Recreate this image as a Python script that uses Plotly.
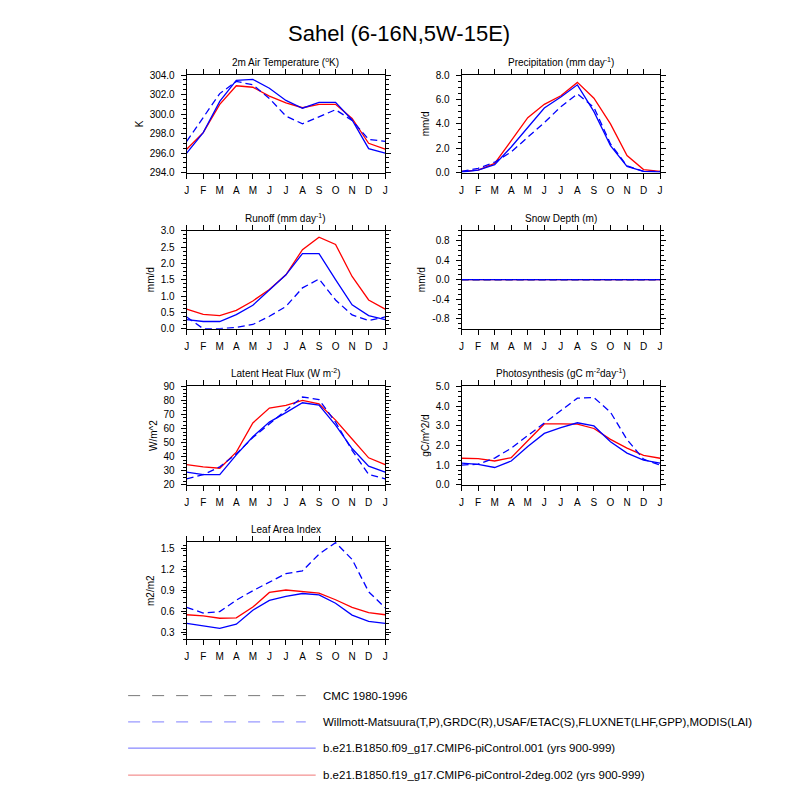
import plotly.graph_objects as go

# ---------------- data ----------------
months = ["J", "F", "M", "A", "M", "J", "J", "A", "S", "O", "N", "D", "J"]
month_pos = list(range(13))

# 2m air temperature (K)
tsa_f09 = [296.0, 298.1, 301.3, 303.45, 303.55, 302.65, 301.4, 300.6, 301.2, 301.2, 299.4, 296.45, 296.0]
tsa_f19 = [296.4, 298.1, 301.0, 302.9, 302.75, 301.85, 301.15, 300.65, 301.0, 301.0, 299.55, 297.0, 296.4]
tsa_obs = [297.2, 299.6, 302.1, 303.35, 303.0, 301.6, 299.8, 299.0, 299.7, 300.45, 299.35, 297.4, 297.2]

# precipitation (mm/d)
prc_f09 = [0.05, 0.2, 0.65, 2.1, 3.7, 5.3, 6.2, 7.2, 5.0, 2.2, 0.5, 0.1, 0.05]
prc_f19 = [0.1, 0.2, 0.75, 2.6, 4.5, 5.6, 6.3, 7.4, 6.1, 4.0, 1.4, 0.25, 0.1]
prc_obs = [0.1, 0.35, 0.85, 1.7, 2.9, 4.1, 5.4, 6.45, 5.35, 2.35, 0.55, 0.1, 0.1]

# runoff (mm/d)
rof_f09 = [0.28, 0.22, 0.22, 0.43, 0.72, 1.2, 1.65, 2.3, 2.3, 1.5, 0.73, 0.4, 0.28]
rof_f19 = [0.6, 0.44, 0.4, 0.56, 0.85, 1.2, 1.65, 2.42, 2.8, 2.58, 1.6, 0.88, 0.6]
rof_obs = [0.36, 0.0, 0.0, 0.04, 0.13, 0.38, 0.68, 1.25, 1.52, 0.88, 0.42, 0.25, 0.36]

# snow depth (m)
snd_f09 = [0.0] * 13
snd_f19 = [0.0] * 13
snd_obs = [0.0] * 13
snd_cmc = [0.0] * 13

# latent heat flux (W/m2)
lhf_f09 = [29.0, 27.2, 27.2, 41.3, 54.2, 64.6, 71.3, 78.3, 76.6, 62.4, 45.8, 33.3, 29.0]
lhf_f19 = [34.4, 32.8, 31.8, 43.2, 64.0, 74.6, 76.4, 80.0, 77.6, 66.0, 52.6, 39.2, 34.4]
lhf_obs = [24.3, 27.2, 32.8, 42.0, 53.6, 63.6, 73.0, 82.4, 80.6, 64.5, 44.5, 27.4, 24.3]

# photosynthesis (gC/m2/d)
gpp_f09 = [1.1, 1.04, 0.88, 1.21, 1.94, 2.61, 2.9, 3.15, 2.99, 2.19, 1.61, 1.25, 1.1]
gpp_f19 = [1.35, 1.33, 1.21, 1.38, 2.24, 3.09, 3.09, 3.08, 2.86, 2.31, 1.86, 1.5, 1.35]
gpp_obs = [1.0, 1.05, 1.36, 1.86, 2.5, 3.14, 3.77, 4.4, 4.43, 3.69, 2.3, 1.3, 1.0]

# leaf area index (m2/m2)
lai_f09 = [0.43, 0.40, 0.36, 0.42, 0.62, 0.76, 0.82, 0.86, 0.84, 0.72, 0.55, 0.46, 0.43]
lai_f19 = [0.555, 0.54, 0.505, 0.51, 0.665, 0.875, 0.91, 0.89, 0.865, 0.77, 0.66, 0.585, 0.555]
lai_obs = [0.66, 0.58, 0.60, 0.765, 0.90, 1.02, 1.145, 1.185, 1.425, 1.59, 1.35, 0.885, 0.655]

snow_ticks = [-0.8, -0.4, 0.0, 0.4, 0.8]
snow_ticktext = ["-0.8", "-0.4", "0.0", "0.4", "0.8"]

legend_labels = [
    "CMC 1980-1996",
    "Willmott-Matsuura(T,P),GRDC(R),USAF/ETAC(S),FLUXNET(LHF,GPP),MODIS(LAI)",
    "b.e21.B1850.f09_g17.CMIP6-piControl.001 (yrs 900-999)",
    "b.e21.B1850.f19_g17.CMIP6-piControl-2deg.002 (yrs 900-999)",
]

# ---------------- styling ----------------
FONT = "Liberation Sans, Arial, Helvetica, sans-serif"
RED = "#ff0000"
BLUE = "#0000ff"
W, H = 800, 800
OFF = 8  # page body margin compensation (px)
DASH = "7px,4px"


def px_x(v):
    return (v - OFF) / W


def px_y(v):
    return 1 - (v - OFF) / H


panels = [
    dict(title="2m Air Temperature (<sup>o</sup>K)", ytitle="K", rng=[294, 304], tick=2, minor=0.5, fmt=".1f",
         f09=tsa_f09, f19=tsa_f19, obs=tsa_obs, cmc=None),
    dict(title="Precipitation (mm day<sup>-1</sup>)", ytitle="mm/d", rng=[0, 8], tick=2, minor=0.5, fmt=".1f",
         f09=prc_f09, f19=prc_f19, obs=prc_obs, cmc=None),
    dict(title="Runoff (mm day<sup>-1</sup>)", ytitle="mm/d", rng=[0, 3], tick=0.5, minor=0.125, fmt=".1f",
         f09=rof_f09, f19=rof_f19, obs=rof_obs, cmc=None),
    dict(title="Snow Depth (m)", ytitle="mm/d", rng=[-1, 1], tick=None, minor=0.1, fmt=None,
         f09=snd_f09, f19=snd_f19, obs=snd_obs, cmc=snd_cmc),
    dict(title="Latent Heat Flux (W m<sup>-2</sup>)", ytitle="W/m^2", rng=[20, 90], tick=10, minor=2.5, fmt="d",
         f09=lhf_f09, f19=lhf_f19, obs=lhf_obs, cmc=None),
    dict(title="Photosynthesis (gC m<sup>-2</sup>day<sup>-1</sup>)", ytitle="gC/m^2/d", rng=[0, 5], tick=1, minor=0.25, fmt=".1f",
         f09=gpp_f09, f19=gpp_f19, obs=gpp_obs, cmc=None),
    dict(title="Leaf Area Index", ytitle="m2/m2", rng=[0.2, 1.6], tick=0.3, minor=0.075, fmt=".1f", tick0=0.3,
         f09=lai_f09, f19=lai_f19, obs=lai_obs, cmc=None),
]

col_x = [(185, 385), (462, 662)]
row_y = [(70, 169), (228, 327.5), (386, 486), (544, 643)]

fig = go.Figure()
annotations = []
shapes = []

for i, p in enumerate(panels):
    r, c = divmod(i, 2)
    x0, x1 = col_x[c]
    y0, y1 = row_y[r]
    n = i + 1
    xa = "x" if n == 1 else f"x{n}"
    ya = "y" if n == 1 else f"y{n}"
    xkey = "xaxis" if n == 1 else f"xaxis{n}"
    ykey = "yaxis" if n == 1 else f"yaxis{n}"

    fig.add_trace(go.Scatter(x=month_pos, y=p["f19"], mode="lines", xaxis=xa, yaxis=ya,
                             line=dict(color=RED, width=1.3), showlegend=False, hoverinfo="skip"))
    fig.add_trace(go.Scatter(x=month_pos, y=p["f09"], mode="lines", xaxis=xa, yaxis=ya,
                             line=dict(color=BLUE, width=1.3), showlegend=False, hoverinfo="skip"))
    if p["cmc"] is not None:
        fig.add_trace(go.Scatter(x=month_pos, y=p["cmc"], mode="lines", xaxis=xa, yaxis=ya,
                                 line=dict(color="#000000", width=1.3, dash=DASH),
                                 showlegend=False, hoverinfo="skip"))
    fig.add_trace(go.Scatter(x=month_pos, y=p["obs"], mode="lines", xaxis=xa, yaxis=ya,
                             line=dict(color=BLUE, width=1.3, dash=DASH), showlegend=False, hoverinfo="skip"))

    fig.layout[xkey] = dict(
        domain=[px_x(x0), px_x(x1)], anchor=ya, range=[0, 12],
        tickmode="array", tickvals=month_pos, ticktext=months,
        ticks="outside", ticklen=5, tickwidth=1, tickcolor="black",
        showline=True, linecolor="black", linewidth=1, mirror="ticks",
        showgrid=False, zeroline=False, ticklabelstandoff=3,
        tickfont=dict(family=FONT, size=10, color="black"),
    )
    yax = dict(
        domain=[px_y(y1), px_y(y0)], anchor=xa, range=p["rng"],
        ticks="outside", ticklen=5, tickwidth=1, tickcolor="black",
        showline=True, linecolor="black", linewidth=1, mirror="ticks",
        showgrid=False, zeroline=False, ticklabelstandoff=4,
        tickfont=dict(family=FONT, size=10, color="black"),
        title=dict(text=p["ytitle"], font=dict(family=FONT, size=10, color="black"), standoff=4),
        minor=dict(ticks="outside", ticklen=3, tickwidth=1, tickcolor="black", dtick=p["minor"],
                   tick0=p["rng"][0], showgrid=False),
    )
    if p["tick"] is None:
        yax.update(tickmode="array", tickvals=snow_ticks, ticktext=snow_ticktext)
    else:
        yax.update(tickmode="linear", tick0=p.get("tick0", p["rng"][0]), dtick=p["tick"], tickformat=p["fmt"])
    fig.layout[ykey] = yax

    annotations.append(dict(
        text=p["title"], xref="paper", yref="paper", x=px_x((x0 + x1) / 2), y=px_y(y0 - 5),
        xanchor="center", yanchor="bottom", showarrow=False,
        font=dict(family=FONT, size=10, color="black"),
    ))

# main title
annotations.append(dict(
    text="Sahel (6-16N,5W-15E)", xref="paper", yref="paper", x=px_x(399), y=px_y(28),
    xanchor="center", yanchor="middle", showarrow=False,
    font=dict(family=FONT, size=22, color="black"),
))

# legend (long line keys, NCL style)
leg_rows = [700, 726.7, 753.3, 780.7]
leg_styles = [
    dict(color="#7a7a7a", dash="12px,12px", end=305),
    dict(color="#7f7fff", dash="12px,12px", end=305),
    dict(color="#6b6bff", dash="solid", end=315),
    dict(color="#f07777", dash="solid", end=315),
]
for yy, st, lab in zip(leg_rows, leg_styles, legend_labels):
    shapes.append(dict(type="line", xref="paper", yref="paper",
                       x0=px_x(126), x1=px_x(st["end"]), y0=px_y(yy), y1=px_y(yy),
                       line=dict(color=st["color"], width=1, dash=st["dash"])))
    annotations.append(dict(
        text=lab, xref="paper", yref="paper", x=px_x(320), y=px_y(yy),
        xanchor="left", yanchor="middle", showarrow=False,
        font=dict(family=FONT, size=11.5, color="black"),
    ))

fig.update_layout(
    width=W, height=H, margin=dict(l=0, r=0, t=0, b=0),
    paper_bgcolor="white", plot_bgcolor="white",
    showlegend=False, annotations=annotations, shapes=shapes,
    font=dict(family=FONT, color="black"),
)

fig.write_html("out.html")
